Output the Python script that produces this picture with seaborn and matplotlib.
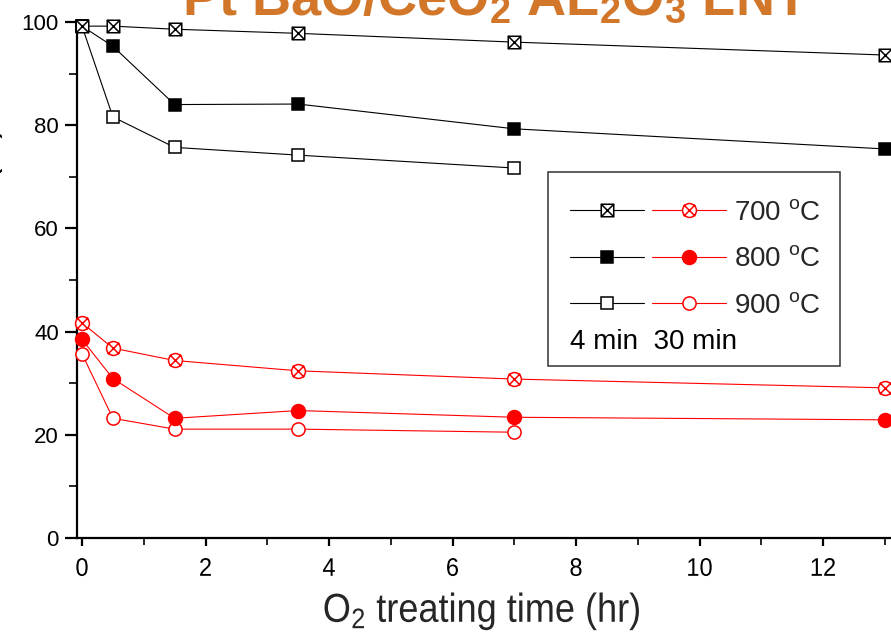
import matplotlib
matplotlib.use("Agg")
import matplotlib.pyplot as plt
import seaborn as sns
from matplotlib.path import Path
from matplotlib.patches import Rectangle
from matplotlib.lines import Line2D
from matplotlib.legend_handler import HandlerTuple
from matplotlib.ticker import MultipleLocator
from matplotlib.patheffects import AbstractPathEffect
from matplotlib.transforms import Affine2D

# ---------------- data ----------------
time_full = [0, 0.5, 1.5, 3.5, 7, 13]
time_900 = [0, 0.5, 1.5, 3.5, 7]

black_700 = [99.2, 99.2, 98.6, 97.8, 96.1, 93.6]
black_800 = [99.2, 95.3, 84.0, 84.1, 79.3, 75.4]
black_900 = [99.2, 81.6, 75.7, 74.2, 71.7]

red_700 = [41.7, 36.8, 34.4, 32.4, 30.8, 29.1]
red_800 = [38.5, 30.9, 23.2, 24.7, 23.4, 22.9]
red_900 = [35.7, 23.2, 21.1, 21.1, 20.5]

legend_labels = ["700 $^{o}$C", "800 $^{o}$C", "900 $^{o}$C"]
legend_note = "4 min  30 min"
title_text = "Pt BaO/CeO$_2$ AL$_2$O$_3$ LNT"
xlabel_text = "O$_2$ treating time (hr)"
ylabel_text = "NOx Conversion (%)"
xticks = [0, 2, 4, 6, 8, 10, 12]
yticks = [0, 20, 40, 60, 80, 100]

# ---------------- style ----------------
sns.set_style("ticks")
plt.rcParams["font.family"] = ["Liberation Sans", "DejaVu Sans"]
plt.rcParams["mathtext.fontset"] = "custom"
plt.rcParams["mathtext.rm"] = "Liberation Sans"
plt.rcParams["mathtext.default"] = "regular"


class StretchY(AbstractPathEffect):
    """Draw text slightly taller (vertical stretch about its baseline)."""
    def __init__(self, sy):
        super().__init__()
        self._sy = sy

    def draw_path(self, renderer, gc, tpath, affine, rgbFace=None):
        renderer.draw_path(gc, tpath, Affine2D().scale(1, self._sy) + affine, rgbFace)


# custom markers
crossed_square = Path(
    [(-1, -1), (1, -1), (1, 1), (-1, 1), (-1, -1),
     (-1, -1), (1, 1), (-1, 1), (1, -1)],
    [Path.MOVETO, Path.LINETO, Path.LINETO, Path.LINETO, Path.CLOSEPOLY,
     Path.MOVETO, Path.LINETO, Path.MOVETO, Path.LINETO])
d = 0.82
crossed_circle = Path.make_compound_path(
    Path.unit_circle(),
    Path([(-d, -d), (d, d)]),
    Path([(-d, d), (d, -d)]))

W, H = 891, 636
fig = plt.figure(figsize=(W / 100, H / 100), dpi=100)

ax_left, ax_right = 77, 894
ax_top, ax_bottom = 22, 538
ax = fig.add_axes([ax_left / W, 1 - ax_bottom / H,
                   (ax_right - ax_left) / W, (ax_bottom - ax_top) / H])

lw = 0.8
common = dict(ax=ax, errorbar=None, sort=False, linewidth=lw, clip_on=False)

# black series (4 min)
sns.lineplot(x=time_900, y=black_900, color="black", marker="s",
             markersize=9, markerfacecolor="white", markeredgecolor="black",
             markeredgewidth=1.1, zorder=3, **common)
sns.lineplot(x=time_full, y=black_800, color="black", marker="s",
             markersize=9, markerfacecolor="black", markeredgecolor="black",
             markeredgewidth=1.1, zorder=4, **common)
sns.lineplot(x=time_full, y=black_700, color="black", marker=crossed_square,
             markersize=9, markerfacecolor="white", markeredgecolor="black",
             markeredgewidth=1.1, zorder=5, **common)

# red series (30 min)
sns.lineplot(x=time_900, y=red_900, color="red", marker="o",
             markersize=9.5, markerfacecolor="white", markeredgecolor="red",
             markeredgewidth=1.1, zorder=3, **common)
sns.lineplot(x=time_full, y=red_800, color="red", marker="o",
             markersize=10, markerfacecolor="red", markeredgecolor="red",
             markeredgewidth=1.1, zorder=4, **common)
sns.lineplot(x=time_full, y=red_700, color="red", marker=crossed_circle,
             markersize=10, markerfacecolor="white", markeredgecolor="red",
             markeredgewidth=1.1, zorder=5, **common)

# axes
x_per_px = 1 / 61.75
ax.set_xlim(-(82 - ax_left) * x_per_px, (ax_right - 82) * x_per_px)
ax.set_ylim(0, 100)
ax.set_xticks(xticks)
ax.set_yticks(yticks)
ax.xaxis.set_minor_locator(MultipleLocator(1))
ax.yaxis.set_minor_locator(MultipleLocator(10))
for s in ["top", "right"]:
    ax.spines[s].set_visible(False)
for s in ["left", "bottom"]:
    ax.spines[s].set_linewidth(1.6)
    ax.spines[s].set_color("black")
ax.tick_params(axis="y", which="major", direction="out", length=9, width=1.6,
               pad=4, labelsize=16, colors="black")
ax.tick_params(axis="y", which="minor", direction="out", length=5.5, width=1.4)
ax.tick_params(axis="x", which="major", direction="out", length=6, width=1.6,
               pad=9, labelsize=17, colors="black")
ax.tick_params(axis="x", which="minor", direction="out", length=5, width=1.4)
for t in ax.get_xticklabels():
    t.set_path_effects([StretchY(1.08)])
ax.set_xlabel(xlabel_text, fontsize=26)
ax.xaxis.label.set_path_effects([StretchY(1.12)])
ax.xaxis.set_label_coords((482 - ax_left) / (ax_right - ax_left),
                          (ax_bottom - 593) / (ax_bottom - ax_top))
ax.set_ylabel("")

# title & y label (partly outside the visible area, as in the reference)
fig.text(495 / W, 1 - 15 / H, title_text, ha="center", va="baseline",
         fontsize=39, fontweight="bold", color="#D2772A")
fig.text(3 / W, 1 - 126 / H, ylabel_text, rotation=90, ha="right", va="top",
         fontsize=24, color="black")

# legend
aw = ax_right - ax_left
ah = ax_bottom - ax_top


def fx(px):
    return (px - ax_left) / aw


def fy(py):
    return (ax_bottom - py) / ah


ax.add_patch(Rectangle((fx(548), fy(366)), fx(840) - fx(548), fy(172) - fy(366),
                       transform=ax.transAxes, fill=False, edgecolor="#333333",
                       linewidth=1.1, zorder=6, clip_on=False))


def h(color, marker, mfc, ms):
    return Line2D([], [], color=color, lw=lw, marker=marker, markersize=ms,
                  markerfacecolor=mfc, markeredgecolor=color, markeredgewidth=1.1)


handles = [
    (h("black", crossed_square, "white", 9), h("red", crossed_circle, "white", 10)),
    (h("black", "s", "black", 9), h("red", "o", "red", 10)),
    (h("black", "s", "white", 9), h("red", "o", "white", 9.5)),
]
leg = ax.legend(handles, legend_labels, loc="upper left",
                bbox_to_anchor=(fx(570), fy(200)), borderaxespad=0, borderpad=0,
                frameon=False, fontsize=20, handlelength=5.6, handletextpad=0.3,
                labelspacing=0.73, numpoints=1,
                handler_map={tuple: HandlerTuple(ndivide=None, pad=0.3)})
leg.set_zorder(7)
ax.text(fx(570), fy(342), legend_note, transform=ax.transAxes, ha="left",
        va="center", fontsize=20, color="black", zorder=7)

fig.savefig("out.png", dpi=100)
